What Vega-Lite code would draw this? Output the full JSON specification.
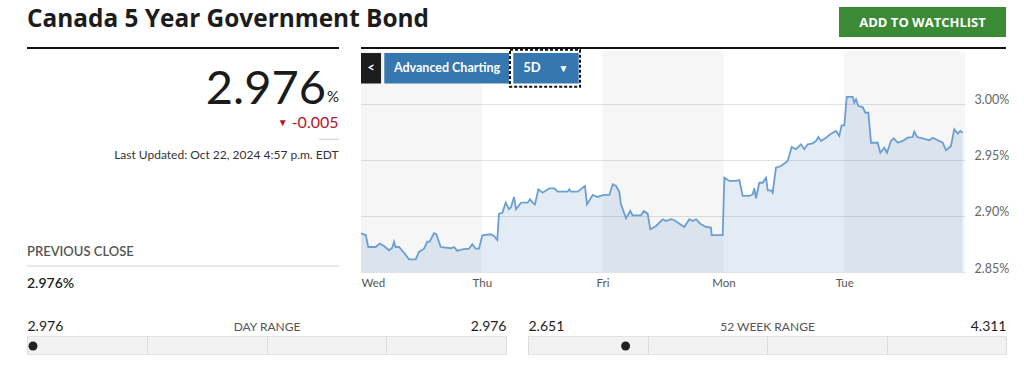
{
  "$schema": "https://vega.github.io/schema/vega-lite/v6.json",
  "background": "#ffffff",
  "padding": {"left": 26, "top": 0, "right": 0, "bottom": 0},
  "autosize": {"type": "pad"},
  "config": {"font": "Lato", "view": {"stroke": null}},
  "datasets": {
    "series": [
      {"t": 0.000, "yield": 2.8846}, {"t": 0.039, "yield": 2.8830}, {"t": 0.060, "yield": 2.8723}, {"t": 0.122, "yield": 2.8723},
      {"t": 0.155, "yield": 2.8753}, {"t": 0.190, "yield": 2.8732}, {"t": 0.232, "yield": 2.8694}, {"t": 0.259, "yield": 2.8717},
      {"t": 0.273, "yield": 2.8771}, {"t": 0.287, "yield": 2.8723}, {"t": 0.315, "yield": 2.8723}, {"t": 0.356, "yield": 2.8672},
      {"t": 0.397, "yield": 2.8613}, {"t": 0.453, "yield": 2.8613}, {"t": 0.480, "yield": 2.8679}, {"t": 0.522, "yield": 2.8708},
      {"t": 0.549, "yield": 2.8771}, {"t": 0.569, "yield": 2.8771}, {"t": 0.604, "yield": 2.8846}, {"t": 0.623, "yield": 2.8837},
      {"t": 0.660, "yield": 2.8723}, {"t": 0.743, "yield": 2.8712}, {"t": 0.770, "yield": 2.8723}, {"t": 0.797, "yield": 2.8688},
      {"t": 0.839, "yield": 2.8703}, {"t": 0.894, "yield": 2.8708}, {"t": 0.921, "yield": 2.8747}, {"t": 0.950, "yield": 2.8708},
      {"t": 0.977, "yield": 2.8708}, {"t": 1.004, "yield": 2.8828}, {"t": 1.074, "yield": 2.8837}, {"t": 1.101, "yield": 2.8821},
      {"t": 1.128, "yield": 2.8786}, {"t": 1.142, "yield": 2.9021}, {"t": 1.170, "yield": 2.9029}, {"t": 1.198, "yield": 2.9119},
      {"t": 1.225, "yield": 2.9060}, {"t": 1.242, "yield": 2.9080}, {"t": 1.267, "yield": 2.9170}, {"t": 1.283, "yield": 2.9060},
      {"t": 1.325, "yield": 2.9119}, {"t": 1.380, "yield": 2.9119}, {"t": 1.399, "yield": 2.9149}, {"t": 1.421, "yield": 2.9119},
      {"t": 1.440, "yield": 2.9104}, {"t": 1.468, "yield": 2.9238}, {"t": 1.504, "yield": 2.9208}, {"t": 1.559, "yield": 2.9247},
      {"t": 1.600, "yield": 2.9247}, {"t": 1.628, "yield": 2.9217}, {"t": 1.711, "yield": 2.9217}, {"t": 1.724, "yield": 2.9238},
      {"t": 1.738, "yield": 2.9217}, {"t": 1.794, "yield": 2.9217}, {"t": 1.854, "yield": 2.9268}, {"t": 1.871, "yield": 2.9104},
      {"t": 1.918, "yield": 2.9188}, {"t": 1.959, "yield": 2.9170}, {"t": 2.009, "yield": 2.9188}, {"t": 2.056, "yield": 2.9188},
      {"t": 2.084, "yield": 2.9283}, {"t": 2.111, "yield": 2.9268}, {"t": 2.138, "yield": 2.9217}, {"t": 2.152, "yield": 2.9104},
      {"t": 2.194, "yield": 2.8979}, {"t": 2.229, "yield": 2.9045}, {"t": 2.249, "yield": 2.9006}, {"t": 2.318, "yield": 2.9006},
      {"t": 2.340, "yield": 2.9045}, {"t": 2.373, "yield": 2.9021}, {"t": 2.395, "yield": 2.8881}, {"t": 2.442, "yield": 2.8911},
      {"t": 2.498, "yield": 2.8971}, {"t": 2.525, "yield": 2.8955}, {"t": 2.566, "yield": 2.8971}, {"t": 2.594, "yield": 2.8962},
      {"t": 2.676, "yield": 2.8902}, {"t": 2.718, "yield": 2.8971}, {"t": 2.746, "yield": 2.8955}, {"t": 2.773, "yield": 2.8971},
      {"t": 2.815, "yield": 2.8926}, {"t": 2.856, "yield": 2.8902}, {"t": 2.897, "yield": 2.8896}, {"t": 2.903, "yield": 2.8830},
      {"t": 2.994, "yield": 2.8830}, {"t": 3.008, "yield": 2.9342}, {"t": 3.049, "yield": 2.9313}, {"t": 3.104, "yield": 2.9313},
      {"t": 3.132, "yield": 2.9321}, {"t": 3.160, "yield": 2.9179}, {"t": 3.214, "yield": 2.9179}, {"t": 3.243, "yield": 2.9194},
      {"t": 3.256, "yield": 2.9247}, {"t": 3.270, "yield": 2.9158}, {"t": 3.297, "yield": 2.9297}, {"t": 3.325, "yield": 2.9297},
      {"t": 3.353, "yield": 2.9342}, {"t": 3.367, "yield": 2.9229}, {"t": 3.394, "yield": 2.9229}, {"t": 3.408, "yield": 2.9208},
      {"t": 3.435, "yield": 2.9431}, {"t": 3.477, "yield": 2.9446}, {"t": 3.532, "yield": 2.9491}, {"t": 3.565, "yield": 2.9616},
      {"t": 3.601, "yield": 2.9596}, {"t": 3.642, "yield": 2.9640}, {"t": 3.670, "yield": 2.9596}, {"t": 3.698, "yield": 2.9640},
      {"t": 3.739, "yield": 2.9649}, {"t": 3.767, "yield": 2.9670}, {"t": 3.786, "yield": 2.9705}, {"t": 3.808, "yield": 2.9670},
      {"t": 3.849, "yield": 2.9699}, {"t": 3.891, "yield": 2.9735}, {"t": 3.932, "yield": 2.9759}, {"t": 3.959, "yield": 2.9714},
      {"t": 3.979, "yield": 2.9810}, {"t": 4.001, "yield": 2.9810}, {"t": 4.021, "yield": 3.0063}, {"t": 4.070, "yield": 3.0063},
      {"t": 4.084, "yield": 3.0012}, {"t": 4.098, "yield": 3.0042}, {"t": 4.117, "yield": 2.9982}, {"t": 4.153, "yield": 2.9973},
      {"t": 4.175, "yield": 2.9922}, {"t": 4.200, "yield": 2.9922}, {"t": 4.222, "yield": 2.9654}, {"t": 4.277, "yield": 2.9654},
      {"t": 4.299, "yield": 2.9565}, {"t": 4.332, "yield": 2.9610}, {"t": 4.354, "yield": 2.9565}, {"t": 4.387, "yield": 2.9670},
      {"t": 4.410, "yield": 2.9694}, {"t": 4.443, "yield": 2.9654}, {"t": 4.484, "yield": 2.9670}, {"t": 4.526, "yield": 2.9699},
      {"t": 4.567, "yield": 2.9705}, {"t": 4.580, "yield": 2.9753}, {"t": 4.603, "yield": 2.9705}, {"t": 4.650, "yield": 2.9694},
      {"t": 4.705, "yield": 2.9676}, {"t": 4.733, "yield": 2.9699}, {"t": 4.774, "yield": 2.9676}, {"t": 4.815, "yield": 2.9654},
      {"t": 4.843, "yield": 2.9587}, {"t": 4.884, "yield": 2.9625}, {"t": 4.911, "yield": 2.9774}, {"t": 4.940, "yield": 2.9735},
      {"t": 4.961, "yield": 2.9759}, {"t": 4.981, "yield": 2.9744}
    ],
    "days": [
      {"day": "Wed", "start": 0, "end": 1, "shaded": true},
      {"day": "Thu", "start": 1, "end": 2, "shaded": false},
      {"day": "Fri", "start": 2, "end": 3, "shaded": true},
      {"day": "Mon", "start": 3, "end": 4, "shaded": false},
      {"day": "Tue", "start": 4, "end": 5, "shaded": true}
    ]
  },
  "spacing": 0,
  "vconcat": [
    {
      "width": 979,
      "height": 46,
      "layer": [
        {
          "data": {"values": [{"label": "Canada 5 Year Government Bond"}]},
          "mark": {"type": "text", "align": "left", "baseline": "alphabetic", "fontSize": 24.4, "fontWeight": "bold", "font": "Open Sans", "color": "#1c1c1c"},
          "encoding": {
            "x": {"datum": 0, "type": "quantitative", "scale": {"domain": [0, 979], "nice": false, "zero": false}, "axis": null},
            "y": {"datum": 27, "type": "quantitative", "scale": {"domain": [46, 0], "nice": false, "zero": false}, "axis": null},
            "text": {"field": "label"}
          }
        },
        {
          "data": {"values": [{"label": "ADD TO WATCHLIST"}]},
          "mark": {"type": "rect", "color": "#3a8a36"},
          "encoding": {
            "x": {"datum": 812, "type": "quantitative", "scale": {"domain": [0, 979], "nice": false, "zero": false}, "axis": null},
            "x2": {"datum": 979},
            "y": {"datum": 7, "type": "quantitative", "scale": {"domain": [46, 0], "nice": false, "zero": false}, "axis": null},
            "y2": {"datum": 37}
          }
        },
        {
          "data": {"values": [{"label": "ADD TO WATCHLIST"}]},
          "mark": {"type": "text", "align": "center", "baseline": "middle", "fontSize": 13, "fontWeight": "bold", "font": "Open Sans", "color": "#ffffff"},
          "encoding": {
            "x": {"datum": 895.5, "type": "quantitative", "scale": {"domain": [0, 979], "nice": false, "zero": false}, "axis": null},
            "y": {"datum": 22.5, "type": "quantitative", "scale": {"domain": [46, 0], "nice": false, "zero": false}, "axis": null},
            "text": {"field": "label"}
          }
        }
      ]
    },
    {
      "spacing": 22,
      "bounds": "flush",
      "hconcat": [
        {
          "width": 312,
          "height": 271,
          "layer": [
            {
              "data": {"values": [{"label": "top"}]},
              "mark": {"type": "rule", "color": "#111111", "strokeWidth": 2},
              "encoding": {
                "x": {"datum": 0, "type": "quantitative", "scale": {"domain": [0, 312], "nice": false, "zero": false}, "axis": null},
                "x2": {"datum": 312},
                "y": {"datum": 1, "type": "quantitative", "scale": {"domain": [271, 0], "nice": false, "zero": false}, "axis": null}
              }
            },
            {
              "data": {"values": [{"label": "2.976"}]},
              "mark": {"type": "text", "align": "right", "baseline": "alphabetic", "fontSize": 47, "color": "#1a1a1a"},
              "encoding": {
                "x": {"datum": 299, "type": "quantitative", "scale": {"domain": [0, 312], "nice": false, "zero": false}, "axis": null},
                "y": {"datum": 56.8, "type": "quantitative", "scale": {"domain": [271, 0], "nice": false, "zero": false}, "axis": null},
                "text": {"field": "label"}
              }
            },
            {
              "data": {"values": [{"label": "%"}]},
              "mark": {"type": "text", "align": "right", "baseline": "alphabetic", "fontSize": 15, "color": "#1a1a1a"},
              "encoding": {
                "x": {"datum": 312, "type": "quantitative", "scale": {"domain": [0, 312], "nice": false, "zero": false}, "axis": null},
                "y": {"datum": 54.7, "type": "quantitative", "scale": {"domain": [271, 0], "nice": false, "zero": false}, "axis": null},
                "text": {"field": "label"}
              }
            },
            {
              "data": {"values": [{"label": "▼"}]},
              "mark": {"type": "text", "align": "center", "baseline": "middle", "fontSize": 10, "color": "#b0182b"},
              "encoding": {
                "x": {"datum": 255.7, "type": "quantitative", "scale": {"domain": [0, 312], "nice": false, "zero": false}, "axis": null},
                "y": {"datum": 75.7, "type": "quantitative", "scale": {"domain": [271, 0], "nice": false, "zero": false}, "axis": null},
                "text": {"field": "label"}
              }
            },
            {
              "data": {"values": [{"label": "-0.005"}]},
              "mark": {"type": "text", "align": "right", "baseline": "alphabetic", "fontSize": 16, "color": "#b0182b"},
              "encoding": {
                "x": {"datum": 311.5, "type": "quantitative", "scale": {"domain": [0, 312], "nice": false, "zero": false}, "axis": null},
                "y": {"datum": 80.7, "type": "quantitative", "scale": {"domain": [271, 0], "nice": false, "zero": false}, "axis": null},
                "text": {"field": "label"}
              }
            },
            {
              "data": {"values": [{"label": "sep"}]},
              "mark": {"type": "rule", "color": "#cfcfcf", "strokeWidth": 1},
              "encoding": {
                "x": {"datum": 292, "type": "quantitative", "scale": {"domain": [0, 312], "nice": false, "zero": false}, "axis": null},
                "x2": {"datum": 312},
                "y": {"datum": 92.3, "type": "quantitative", "scale": {"domain": [271, 0], "nice": false, "zero": false}, "axis": null}
              }
            },
            {
              "data": {"values": [{"label": "Last Updated: Oct 22, 2024 4:57 p.m. EDT"}]},
              "mark": {"type": "text", "align": "right", "baseline": "alphabetic", "fontSize": 12, "color": "#333333"},
              "encoding": {
                "x": {"datum": 311.5, "type": "quantitative", "scale": {"domain": [0, 312], "nice": false, "zero": false}, "axis": null},
                "y": {"datum": 112.3, "type": "quantitative", "scale": {"domain": [271, 0], "nice": false, "zero": false}, "axis": null},
                "text": {"field": "label"}
              }
            },
            {
              "data": {"values": [{"label": "PREVIOUS CLOSE"}]},
              "mark": {"type": "text", "align": "left", "baseline": "alphabetic", "fontSize": 13, "fontWeight": 600, "color": "#555555"},
              "encoding": {
                "x": {"datum": 0, "type": "quantitative", "scale": {"domain": [0, 312], "nice": false, "zero": false}, "axis": null},
                "y": {"datum": 209, "type": "quantitative", "scale": {"domain": [271, 0], "nice": false, "zero": false}, "axis": null},
                "text": {"field": "label"}
              }
            },
            {
              "data": {"values": [{"label": "line"}]},
              "mark": {"type": "rule", "color": "#e8e8e8", "strokeWidth": 2},
              "encoding": {
                "x": {"datum": 0, "type": "quantitative", "scale": {"domain": [0, 312], "nice": false, "zero": false}, "axis": null},
                "x2": {"datum": 312},
                "y": {"datum": 219, "type": "quantitative", "scale": {"domain": [271, 0], "nice": false, "zero": false}, "axis": null}
              }
            },
            {
              "data": {"values": [{"label": "2.976%"}]},
              "mark": {"type": "text", "align": "left", "baseline": "alphabetic", "fontSize": 14, "fontWeight": 600, "color": "#222222"},
              "encoding": {
                "x": {"datum": 0, "type": "quantitative", "scale": {"domain": [0, 312], "nice": false, "zero": false}, "axis": null},
                "y": {"datum": 241.3, "type": "quantitative", "scale": {"domain": [271, 0], "nice": false, "zero": false}, "axis": null},
                "text": {"field": "label"}
              }
            }
          ]
        },
        {
          "width": 604,
          "height": 225,
          "layer": [
            {
              "data": {"name": "days"},
              "transform": [{"filter": "datum.shaded"}],
              "mark": {"type": "rect", "color": "#000000", "opacity": 0.035},
              "encoding": {
                "x": {"field": "start", "type": "quantitative", "title": null, "scale": {"domain": [0, 5], "nice": false, "zero": false}},
                "x2": {"field": "end"},
                "y": {"datum": 2.85, "type": "quantitative", "title": null, "scale": {"domain": [2.85, 3.05089], "nice": false, "zero": false}},
                "y2": {"datum": 3.047}
              }
            },
            {
              "data": {"name": "series"},
              "mark": {"type": "area", "color": "#4e86bb", "opacity": 0.16},
              "encoding": {
                "x": {"field": "t", "type": "quantitative", "title": null, "scale": {"domain": [0, 5], "nice": false, "zero": false},
                  "axis": {"orient": "bottom", "values": [0, 1, 2, 3, 4], "labelExpr": "['Wed','Thu','Fri','Mon','Tue'][datum.value]", "labelFlush": true, "domain": false, "ticks": false, "tickSize": 0, "grid": false, "labelPadding": 5, "labelFontSize": 11.5, "labelColor": "#555555", "title": null}},
                "y": {"field": "yield", "type": "quantitative", "title": null, "scale": {"domain": [2.85, 3.05089], "nice": false, "zero": false},
                  "axis": {"orient": "right", "values": [2.85, 2.9, 2.95, 3.0], "labelExpr": "format(datum.value, '.2f') + '%'", "labelBaseline": "alphabetic", "domain": false, "ticks": false, "tickSize": 0, "grid": true, "gridColor": "#e2e2e2", "labelPadding": 9, "labelFontSize": 12.5, "labelColor": "#666666", "title": null}},
                "y2": {"datum": 2.85}
              }
            },
            {
              "data": {"name": "series"},
              "mark": {"type": "line", "color": "#6a9fd3", "strokeWidth": 1.8},
              "encoding": {
                "x": {"field": "t", "type": "quantitative", "title": null, "scale": {"domain": [0, 5], "nice": false, "zero": false}},
                "y": {"field": "yield", "type": "quantitative", "title": null, "scale": {"domain": [2.85, 3.05089], "nice": false, "zero": false}}
              }
            },
            {
              "data": {"values": [{"label": "top"}]},
              "mark": {"type": "rule", "color": "#111111", "strokeWidth": 2},
              "encoding": {
                "x": {"datum": 0, "type": "quantitative", "title": null},
                "x2": {"datum": 5.339},
                "y": {"datum": 3.05, "type": "quantitative", "title": null}
              }
            },
            {
              "data": {"values": [{"label": "back"}]},
              "mark": {"type": "rect", "color": "#1d1d1d"},
              "encoding": {
                "x": {"datum": 0, "type": "quantitative", "title": null},
                "x2": {"datum": 0.166},
                "y": {"datum": 3.0455, "type": "quantitative", "title": null},
                "y2": {"datum": 3.0183}
              }
            },
            {
              "data": {"values": [{"label": "Advanced Charting"}]},
              "mark": {"type": "rect", "color": "#3677b0"},
              "encoding": {
                "x": {"datum": 0.193, "type": "quantitative", "title": null},
                "x2": {"datum": 1.226},
                "y": {"datum": 3.0455, "type": "quantitative", "title": null},
                "y2": {"datum": 3.0183}
              }
            },
            {
              "data": {"values": [{"label": "5D"}]},
              "mark": {"type": "rect", "color": "#3677b0"},
              "encoding": {
                "x": {"datum": 1.2608, "type": "quantitative", "title": null},
                "x2": {"datum": 1.8022},
                "y": {"datum": 3.0455, "type": "quantitative", "title": null},
                "y2": {"datum": 3.0183}
              }
            },
            {
              "data": {"values": [{"label": "focus"}]},
              "mark": {"type": "rect", "fill": null, "fillOpacity": 0, "stroke": "#111111", "strokeWidth": 2, "strokeDash": [3, 2]},
              "encoding": {
                "x": {"datum": 1.2334, "type": "quantitative", "title": null},
                "x2": {"datum": 1.8129},
                "y": {"datum": 3.0485, "type": "quantitative", "title": null},
                "y2": {"datum": 3.0153}
              }
            },
            {
              "data": {"values": [{"label": "<"}]},
              "mark": {"type": "text", "align": "center", "baseline": "middle", "fontSize": 13, "fontWeight": "bold", "color": "#ffffff"},
              "encoding": {
                "x": {"datum": 0.083, "type": "quantitative", "title": null},
                "y": {"datum": 3.0319, "type": "quantitative", "title": null},
                "text": {"field": "label"}
              }
            },
            {
              "data": {"values": [{"label": "Advanced Charting"}]},
              "mark": {"type": "text", "align": "center", "baseline": "middle", "fontSize": 12.5, "fontWeight": "bold", "color": "#ffffff"},
              "encoding": {
                "x": {"datum": 0.712, "type": "quantitative", "title": null},
                "y": {"datum": 3.0319, "type": "quantitative", "title": null},
                "text": {"field": "label"}
              }
            },
            {
              "data": {"values": [{"label": "5D"}]},
              "mark": {"type": "text", "align": "center", "baseline": "middle", "fontSize": 13, "fontWeight": "bold", "color": "#ffffff"},
              "encoding": {
                "x": {"datum": 1.4156, "type": "quantitative", "title": null},
                "y": {"datum": 3.0319, "type": "quantitative", "title": null},
                "text": {"field": "label"}
              }
            },
            {
              "data": {"values": [{"label": "▼"}]},
              "mark": {"type": "text", "align": "center", "baseline": "middle", "fontSize": 10, "color": "#ffffff"},
              "encoding": {
                "x": {"datum": 1.6763, "type": "quantitative", "title": null},
                "y": {"datum": 3.0315, "type": "quantitative", "title": null},
                "text": {"field": "label"}
              }
            }
          ]
        }
      ]
    },
    {
      "spacing": 22,
      "bounds": "flush",
      "hconcat": [
        {
          "width": 479,
          "height": 18,
          "view": {"fill": "#f2f2f2", "stroke": "#e3e3e3"},
          "data": {"values": [{"low": 2.976, "high": 2.976, "current": 2.976}]},
          "mark": {"type": "point", "filled": true, "size": 80, "color": "#222222", "opacity": 1, "xOffset": 6, "yOffset": 1},
          "encoding": {
            "x": {"field": "current", "type": "quantitative", "scale": {"domain": [2.976, 2.97604], "nice": false, "zero": false},
              "axis": {"orient": "top", "values": [2.976, 2.97601, 2.97602, 2.97603, 2.97604], "format": ".3f", "labelExpr": "datum.index == 0 || datum.index == 1 ? datum.label : ''", "labelFlush": true, "labelOverlap": false, "labelFontSize": 14, "labelColor": "#1e1e1e", "labelPadding": 3, "tickSize": 0, "ticks": false, "domain": false, "grid": true, "gridColor": "#dddddd", "title": "DAY RANGE", "titleFontSize": 12, "titleFontWeight": "normal", "titleColor": "#555555", "titleBaseline": "alphabetic", "titleY": -6}}
          }
        },
        {
          "width": 478,
          "height": 18,
          "view": {"fill": "#f2f2f2", "stroke": "#e3e3e3"},
          "data": {"values": [{"low": 2.651, "high": 4.311, "current": 2.976}]},
          "mark": {"type": "point", "filled": true, "size": 80, "color": "#222222", "opacity": 1, "xOffset": 4, "yOffset": 1},
          "encoding": {
            "x": {"field": "current", "type": "quantitative", "scale": {"domain": [2.651, 4.311], "nice": false, "zero": false},
              "axis": {"orient": "top", "values": [2.651, 3.066, 3.481, 3.896, 4.311], "format": ".3f", "labelExpr": "datum.index == 0 || datum.index == 1 ? datum.label : ''", "labelFlush": true, "labelOverlap": false, "labelFontSize": 14, "labelColor": "#1e1e1e", "labelPadding": 3, "tickSize": 0, "ticks": false, "domain": false, "grid": true, "gridColor": "#dddddd", "title": "52 WEEK RANGE", "titleFontSize": 12, "titleFontWeight": "normal", "titleColor": "#555555", "titleBaseline": "alphabetic", "titleY": -6}}
          }
        }
      ]
    }
  ]
}
